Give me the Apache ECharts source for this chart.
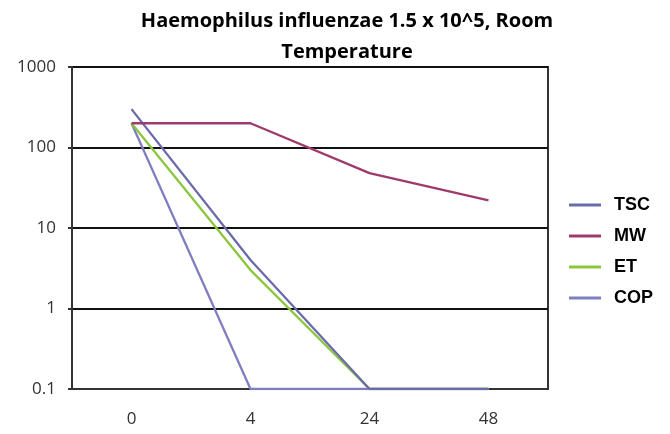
<!DOCTYPE html>
<html><head><meta charset="utf-8">
<script src="https://cdn.jsdelivr.net/npm/echarts@6/dist/echarts.min.js"></script>
<style>html,body{margin:0;padding:0;background:#fff}#c{width:670px;height:434px}</style>
</head><body><div id="c"></div>
<script>
var categories = ['0', '4', '24', '48'];
var seriesNames = ['TSC', 'MW', 'ET', 'COP'];
var tsc = [300, 4, 0.1, 0.1];
var mw = [200, 200, 48, 22];
var et = [200, 3, 0.1, 0.1];
var cop = [200, 0.1, 0.1, 0.1];
var colors = ['#6b6bab', '#9e3a6c', '#8cc63e', '#7f7fc0'];

var chart = echarts.init(document.getElementById('c'));
function mk(name, data, color, z) {
  return {name: name, type: 'line', data: data, symbol: 'none', z: z,
    lineStyle: {color: color, width: 2.3}, itemStyle: {color: color}};
}
chart.setOption({
  animation: false,
  title: {text: 'Haemophilus influenzae 1.5 x 10^5, Room\nTemperature', left: 342, textAlign: 'center', top: 1,
    textStyle: {fontFamily: 'Open Sans', fontWeight: 'bold', fontSize: 20, color: '#000', lineHeight: 31}},
  legend: {orient: 'vertical', left: 564, top: 191, itemWidth: 32, itemHeight: 14, itemGap: 13,
    icon: 'path://M0,6 L32,6 L32,9 L0,9 Z',
    textStyle: {fontFamily: 'Liberation Sans', fontWeight: 'bold', fontSize: 18, color: '#000', padding: [0, 0, 0, 8]},
    data: seriesNames},
  grid: {left: 72, right: 122, top: 67, bottom: 45, containLabel: false, show: true, borderColor: '#333', borderWidth: 2},
  xAxis: {type: 'category', data: categories, boundaryGap: true,
    axisLine: {lineStyle: {color: '#333', width: 2}}, axisTick: {show: false},
    axisLabel: {fontFamily: 'Open Sans', fontSize: 17, color: '#333', margin: 22}},
  yAxis: {type: 'log', logBase: 10, min: 0.1, max: 1000,
    axisLine: {show: true, lineStyle: {color: '#333', width: 2}},
    axisTick: {show: true, length: 4, lineStyle: {color: '#333', width: 2}},
    splitLine: {lineStyle: {color: '#111', width: 2}},
    axisLabel: {fontFamily: 'Open Sans', fontSize: 17, color: '#333', margin: 16,
      formatter: function (v) { return v < 1 ? '0.1' : String(Math.round(v)); }}},
  series: [mk('TSC', tsc, colors[0], 3), mk('MW', mw, colors[1], 4), mk('ET', et, colors[2], 2), mk('COP', cop, colors[3], 1)]
});
</script></body></html>
